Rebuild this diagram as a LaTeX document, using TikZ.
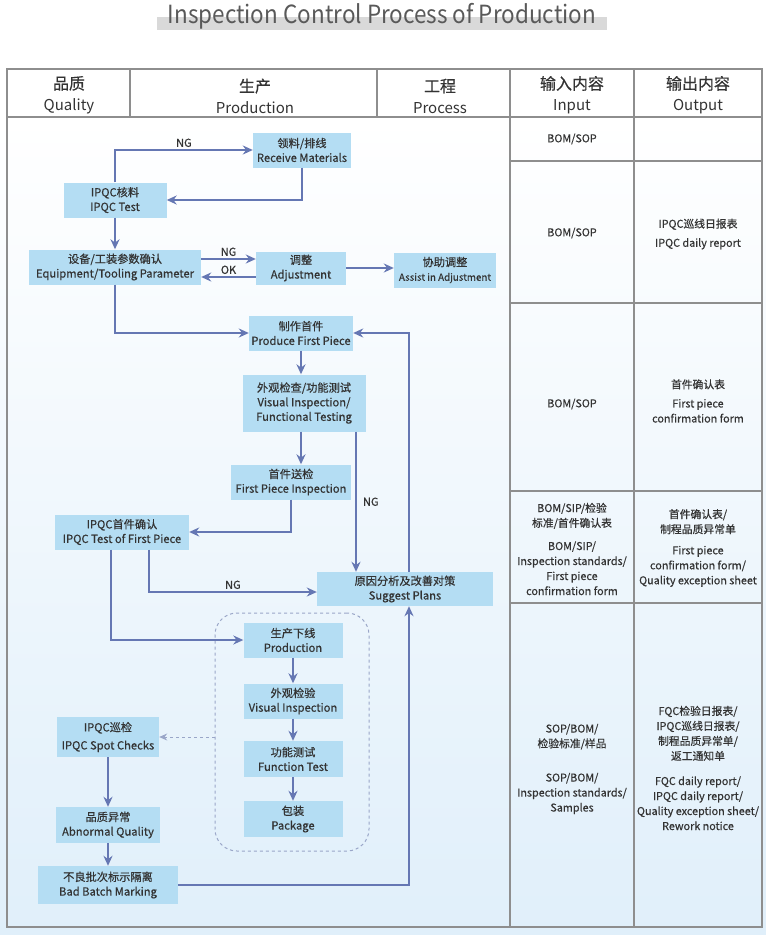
\documentclass[tikz,border=0pt]{standalone}
\usepackage{fontspec}
\setmainfont{Noto Sans CJK SC}[FakeBold=0.5]
\newfontfamily\thinfont{Noto Sans CJK SC}
\usepackage{xcolor}
\usepackage{tikz}
\usetikzlibrary{arrows.meta}

\definecolor{boxblue}{HTML}{B4DDF3}
\definecolor{flowblue}{HTML}{6577B3}
\definecolor{txtgray}{HTML}{333333}
\definecolor{gridgray}{HTML}{8E8E8E}
\definecolor{bgblue}{HTML}{E0EFFA}
\definecolor{dashgray}{HTML}{9AA6C8}

\begin{document}
\begin{tikzpicture}[x=1pt, y=-1pt,
    stage/.style={fill=boxblue, text=txtgray, align=center, inner sep=1pt,
      minimum height=35, font=\fontsize{11.2}{14.5}\selectfont},
    flow/.style={draw=flowblue, line width=2pt, -{Stealth[length=10pt,width=9pt]}},
    spotflow/.style={draw=dashgray, line width=1pt, dashed, -{Stealth[length=8pt,width=7pt]}},
    ngtext/.style={text=txtgray, font=\fontsize{11}{12}\selectfont, inner sep=2pt},
    headtext/.style={text=txtgray, align=center, font=\fontsize{15}{21}\selectfont},
    celltext/.style={text=txtgray, align=center, font=\fontsize{10.8}{15}\selectfont},
    grid/.style={draw=gridgray, line width=1.2pt}]
    \useasboundingbox (0,0) rectangle (766,935);
    \shade[top color=white, bottom color=bgblue] (0,117) rectangle (766,935);

    % title
    \fill[black!15] (157,17) rectangle (607,30);
    \node at (382,16) [text=black!65, font=\thinfont\fontsize{25}{30}\selectfont, xscale=0.9] (title) {Inspection Control Process of Production};

    % table
    \draw[grid] (7,69) rectangle (762,927);
    \draw[grid] (7,117) -- (762,117);
    \draw[grid] (130,69) -- (130,117);
    \draw[grid] (377,69) -- (377,117);
    \draw[grid] (510,69) -- (510,927);
    \draw[grid] (634,69) -- (634,927);
    \draw[grid] (510,161) -- (762,161);
    \draw[grid] (510,303) -- (762,303);
    \draw[grid] (510,491) -- (762,491);
    \draw[grid] (510,603) -- (762,603);

    \node at (69,95) [headtext] (hq) {{\fontsize{16}{21}\selectfont 品质}\\\thinfont Quality};
    \node at (255,96) [headtext] (hp) {{\fontsize{16}{21}\selectfont 生产}\\\thinfont Production};
    \node at (440,96) [headtext] (hr) {{\fontsize{16}{21}\selectfont 工程}\\\thinfont Process};
    \node at (572,95) [headtext] (hi) {{\fontsize{16}{21}\selectfont 输入内容}\\\thinfont Input};
    \node at (698,95) [headtext] (ho) {{\fontsize{16}{21}\selectfont 输出内容}\\\thinfont Output};

    % input / output
    \node at (572,139) [celltext] (in1) {BOM/SOP};
    \node at (572,233) [celltext] (in2) {BOM/SOP};
    \node at (698,234) [celltext] (out2) {IPQC巡线日报表\\[4pt]IPQC daily report};
    \node at (572,404) [celltext] (in3) {BOM/SOP};
    \node at (698,401) [celltext] (out3) {首件确认表\\[4pt]First piece\\confirmation form};
    \node at (572,549) [celltext] (in4) {BOM/SIP/检验\\标准/首件确认表\\[8pt]BOM/SIP/\\Inspection standards/\\First piece\\confirmation form};
    \node at (698,548) [celltext] (out4) {首件确认表/\\制程品质异常单\\[6pt]First piece\\confirmation form/\\Quality exception sheet};
    \node at (572,769) [celltext] (in5) {SOP/BOM/\\检验标准/样品\\[19pt]SOP/BOM/\\Inspection standards/\\Samples};
    \node at (698,768) [celltext] (out5) {FQC检验日报表/\\IPQC巡线日报表/\\制程品质异常单/\\返工通知单\\[10pt]FQC daily report/\\IPQC daily report/\\Quality exception sheet/\\Rework notice};

    % flow boxes
    \node at (302,150) [stage, minimum width=98] (recv) {领料/排线\\Receive Materials};
    \node at (115,200) [stage, minimum width=103] (ipqc) {IPQC核料\\IPQC Test};
    \node at (115,267) [stage, minimum width=172] (equip) {设备/工装参数确认\\Equipment/Tooling Parameter};
    \node at (301,268) [stage, minimum width=90, minimum height=33] (adj) {调整\\Adjustment};
    \node at (445,270) [stage, minimum width=102] (assist) {协助调整\\\fontsize{9.8}{13}\selectfont Assist in Adjustment};
    \node at (301,333) [stage, minimum width=104] (first) {制作首件\\Produce First Piece};
    \node at (304,403) [stage, minimum width=123, minimum height=57] (visfun) {外观检查/功能测试\\Visual Inspection/\\Functional Testing};
    \node at (291,482) [stage, minimum width=120] (fpi) {首件送检\\First Piece Inspection};
    \node at (122,532) [stage, minimum width=134] (ipqcfp) {IPQC首件确认\\IPQC Test of First Piece};
    \node at (405,589) [stage, minimum width=176, minimum height=34] (plans) {原因分析及改善对策\\Suggest Plans};
    \node at (292,732) [draw=dashgray, dashed, line width=1pt, rounded corners=22pt, minimum width=154, minimum height=238] (grp) {};
    \node at (293,640) [stage, minimum width=99] (prod) {生产下线\\Production};
    \node at (293,701) [stage, minimum width=99] (vis) {外观检验\\Visual Inspection};
    \node at (293,759) [stage, minimum width=99, minimum height=36] (func) {功能测试\\Function Test};
    \node at (293,819) [stage, minimum width=99, minimum height=36] (pack) {包装\\Package};
    \node at (108,737) [stage, minimum width=102, minimum height=40, font=\fontsize{11.2}{18}\selectfont] (spot) {IPQC巡检\\IPQC Spot Checks};
    \node at (108,825) [stage, minimum width=104, minimum height=36] (abn) {品质异常\\Abnormal Quality};
    \node at (108,885) [stage, minimum width=140, minimum height=38] (bad) {不良批次标示隔离\\Bad Batch Marking};

    % connectors
    \draw[flow] (ipqc.north) |- node[ngtext, pos=0.75, above] {NG} (recv.west);
    \draw[flow] (recv.south) |- (ipqc.east);
    \draw[flow] (ipqc.south) -- (equip.north);
    \draw[flow] ([yshift=8]equip.east) -- node[ngtext, above] {NG} ([yshift=8]equip.east -| adj.west);
    \draw[flow] ([yshift=-9]adj.west) -- node[ngtext, above] {OK} ([yshift=-9]adj.west -| equip.east);
    \draw[flow] (adj.east) -- (adj.east -| assist.west);
    \draw[flow] (equip.south) |- (first.west);
    \draw[flow] (first.south) -- (first.south |- visfun.north);
    \draw[flow] (first.south |- visfun.south) -- (first.south |- fpi.north);
    \draw[flow] ([xshift=52]visfun.south) -- node[ngtext, right=4pt] {NG} ([xshift=52]visfun.south |- plans.north);
    \draw[flow] (fpi.south) |- (ipqcfp.east);
    \draw[flow] ([xshift=27]ipqcfp.south) |- node[ngtext, pos=0.75, above] {NG} ([yshift=-3]plans.west);
    \draw[flow] ([xshift=-11]ipqcfp.south) |- (prod.west);
    \draw[flow] ([xshift=4]plans.north) |- (first.east);
    \draw[flow] (prod) -- (vis);
    \draw[flow] (vis) -- (func);
    \draw[flow] (func) -- (pack);
    \draw[spotflow] (grp.west |- spot.east) -- (spot.east);
    \draw[flow] (spot) -- (abn);
    \draw[flow] (abn) -- (bad);
    \draw[flow] (bad.east) -| ([xshift=4]plans.south);
\end{tikzpicture}
\end{document}
